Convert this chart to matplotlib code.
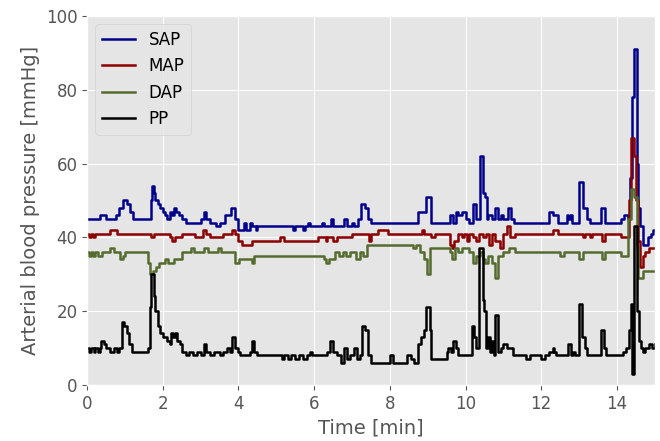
import matplotlib
matplotlib.use("Agg")
import matplotlib.pyplot as plt

# breakpoints (time in minutes, value in mmHg), drawn as steps
sap_t = [0, 0.35, 0.5, 0.75, 0.85, 0.95, 1.05, 1.12, 1.2, 1.65, 1.68, 1.72, 1.76, 1.8, 1.86, 1.93,
         2.0, 2.06, 2.12, 2.2, 2.25, 2.3, 2.36, 2.42, 2.5, 2.6, 3.0, 3.08, 3.15, 3.25, 3.4, 3.5,
         3.65, 3.8, 3.92, 4.0, 4.15, 4.2, 4.3, 4.35, 4.45, 4.5, 5.45, 5.5, 5.7, 5.75, 5.85, 5.9,
         6.2, 6.25, 6.45, 6.5, 6.8, 6.88, 7.0, 7.05, 7.15, 7.25, 7.35, 7.42, 7.5, 8.75, 8.95, 9.1,
         9.6, 9.68, 9.75, 9.8, 9.9, 10.0, 10.1, 10.2, 10.27, 10.38, 10.46, 10.52, 10.56, 10.6, 10.7,
         10.77, 10.85, 10.95, 11.0, 11.12, 11.2, 11.28, 12.2, 12.3, 12.45, 12.68, 12.72, 12.77,
         12.82, 13.0, 13.1, 13.2, 13.3, 13.58, 13.68, 14.1, 14.2, 14.3, 14.35, 14.4, 14.44, 14.52,
         14.56, 14.62, 14.68, 14.82, 14.9, 14.96, 15.0]
sap_v = [45, 46, 45, 46, 48, 50, 49, 47, 45, 45, 50, 54, 52, 50, 49, 48,
         47, 46, 45, 47, 46, 48, 47, 46, 45, 44, 45, 47, 45, 44, 43, 44,
         46, 48, 45, 42, 44, 42, 44, 43, 42, 43, 42, 43, 42, 43, 44, 43,
         44, 43, 45, 43, 45, 43, 44, 43, 45, 49, 48, 45, 44, 47, 51, 44,
         46, 44, 47, 46, 47, 45, 44, 49, 45, 62, 52, 51, 45, 46, 45,
         48, 45, 46, 45, 48, 45, 44, 47, 46, 44, 46, 45, 46,
         44, 55, 48, 45, 44, 48, 44, 45, 46, 45, 56, 78, 91, 60,
         48, 43, 38, 40, 41, 42, 42]

map_t = [0, 0.05, 0.1, 0.15, 0.2, 0.6, 0.8, 1.7, 1.78, 2.2, 2.25, 2.32, 2.5, 2.85, 3.05, 3.15,
         3.25, 3.6, 3.82, 3.9, 4.0, 4.1, 4.35, 5.1, 5.2, 6.1, 6.3, 6.35, 6.5, 6.6, 7.0, 7.35,
         7.45, 7.5, 7.7, 7.95, 8.85, 8.9, 9.1, 9.2, 9.6, 9.65, 9.7, 9.8, 9.9, 9.95, 10.05, 10.1,
         10.2, 10.28, 10.35, 10.45, 10.55, 10.62, 10.7, 10.78, 10.9, 10.98, 11.1, 11.18, 11.3,
         12.3, 12.45, 13.1, 13.15, 13.3, 13.35, 13.6, 13.68, 14.1, 14.32, 14.38, 14.45, 14.5,
         14.55, 14.62, 14.68, 14.75, 14.85, 15.0]
map_v = [41, 40, 41, 40, 41, 42, 41, 40, 41, 40, 39, 40, 41, 40, 42, 41,
         40, 41, 42, 41, 39, 38, 39, 40, 39, 40, 39, 40, 39, 40, 41, 41,
         39, 41, 42, 41, 42, 41, 40, 41, 38, 37, 39, 41, 40, 41, 39, 41,
         40, 39, 41, 40, 41, 38, 41, 39, 37, 41, 43, 40, 41,
         42, 41, 40, 41, 40, 41, 39, 41, 40, 50, 67, 62, 50,
         39, 32, 35, 36, 37, 37]

dap_t = [0, 0.05, 0.1, 0.15, 0.2, 0.3, 0.4, 0.6, 0.7, 0.88, 0.95, 1.0, 1.6, 1.65, 1.75, 1.82,
         1.9, 2.05, 2.15, 2.3, 2.5, 2.75, 2.82, 3.1, 3.2, 3.45, 3.55, 3.92, 4.02, 4.35, 4.42,
         6.25, 6.3, 6.4, 6.55, 6.65, 6.75, 6.85, 6.95, 7.1, 7.2, 7.3, 7.4, 8.6, 8.7, 8.8, 8.9,
         8.98, 9.05, 9.6, 9.65, 9.72, 9.8, 9.9, 10.1, 10.2, 10.28, 10.38, 10.45, 10.52, 10.6,
         10.7, 10.78, 10.86, 11.0, 11.15, 11.3, 12.5, 12.6, 13.0, 13.1, 13.6, 13.68, 14.1, 14.3,
         14.38, 14.45, 14.52, 14.57, 14.68, 15.0]
dap_v = [36, 35, 36, 35, 36, 35, 36, 37, 36, 34, 35, 36, 33, 30, 31, 32,
         33, 34, 33, 34, 36, 37, 36, 37, 36, 37, 36, 33, 34, 33, 35,
         34, 33, 34, 36, 35, 36, 35, 36, 34, 36, 35, 38, 37, 38, 36, 34,
         30, 37, 36, 34, 37, 36, 37, 36, 33, 35, 36, 34, 33, 35,
         33, 29, 35, 36, 37, 36, 35, 36, 34, 36, 34, 36, 35, 45,
         53, 51, 37, 29, 31, 31]

pp_t = [0, 0.05, 0.1, 0.18, 0.22, 0.3, 0.35, 0.38, 0.45, 0.5, 0.6, 0.7, 0.78, 0.85, 0.92, 0.98,
        1.05, 1.1, 1.18, 1.6, 1.65, 1.7, 1.76, 1.8, 1.86, 1.93, 2.0, 2.1, 2.18, 2.22, 2.28,
        2.33, 2.38, 2.45, 2.5, 2.6, 2.7, 2.8, 2.9, 3.0, 3.08, 3.15, 3.25, 3.35, 3.5, 3.6, 3.7,
        3.78, 3.82, 3.9, 4.0, 4.05, 4.3, 4.36, 4.42, 4.5, 5.15, 5.2, 5.3, 5.4, 5.5, 5.6, 5.7,
        5.8, 5.88, 5.95, 6.35, 6.42, 6.5, 6.6, 6.7, 6.8, 6.86, 6.95, 7.05, 7.12, 7.2, 7.27,
        7.35, 7.42, 7.5, 8.0, 8.08, 8.45, 8.55, 8.65, 8.75, 8.82, 8.9, 8.95, 9.05, 9.08, 9.5,
        9.55, 9.62, 9.68, 9.75, 9.8, 10.17, 10.22, 10.28, 10.35, 10.45, 10.5, 10.55, 10.6,
        10.65, 10.7, 10.75, 10.78, 10.85, 10.95, 11.0, 11.1, 11.25, 11.6, 11.7, 12.0, 12.1,
        12.2, 12.3, 12.35, 12.4, 12.7, 12.78, 12.85, 12.9, 13.0, 13.08, 13.15, 13.2, 13.58,
        13.66, 13.72, 14.15, 14.25, 14.32, 14.36, 14.4, 14.44, 14.52, 14.58, 14.65, 14.7,
        14.75, 14.85, 14.92, 15.0]
pp_v = [10, 9, 10, 9, 10, 9, 10, 12, 11, 10, 9, 10, 9, 10, 17, 16,
        14, 11, 9, 10, 21, 30, 24, 20, 16, 14, 13, 12, 11, 14, 13,
        14, 12, 11, 9, 8, 9, 8, 9, 8, 11, 9, 8, 9, 8, 9, 10,
        9, 13, 10, 9, 8, 9, 12, 9, 8, 7, 8, 7, 8, 7, 8, 7,
        8, 9, 8, 9, 12, 9, 8, 6, 10, 7, 8, 10, 7, 8, 16,
        15, 8, 6, 8, 6, 8, 7, 6, 11, 13, 15, 21, 15, 7, 9,
        10, 9, 12, 10, 8, 16, 13, 10, 37, 23, 20, 10, 13,
        9, 12, 8, 19, 9, 10, 11, 10, 8, 7, 8, 7, 8,
        9, 10, 9, 8, 11, 8, 9, 8, 22, 13, 10, 8, 15,
        10, 8, 9, 10, 15, 22, 3, 43, 20, 12, 10, 9,
        10, 11, 10, 11]

plt.style.use('ggplot')
fig = plt.figure(figsize=(6.6, 4.41), dpi=100)
ax = fig.add_axes([0.132, 0.127, 0.860, 0.837])

ax.plot(sap_t, sap_v, drawstyle='steps-post', color='#00008B', lw=1.8, label='SAP')
ax.plot(map_t, map_v, drawstyle='steps-post', color='#8B0000', lw=1.8, label='MAP')
ax.plot(dap_t, dap_v, drawstyle='steps-post', color='#556B2F', lw=1.8, label='DAP')
ax.plot(pp_t, pp_v, drawstyle='steps-post', color='black', lw=1.8, label='PP')

ax.set_xlim(0, 15)
ax.set_ylim(0, 100)
ax.set_xticks(range(0, 15, 2))
ax.tick_params(labelsize=12)
ax.set_xlabel('Time [min]', fontsize=14)
ax.set_ylabel('Arterial blood pressure [mmHg]', fontsize=14)
ax.legend(loc='upper left', fontsize=12)

fig.savefig('out.png')
